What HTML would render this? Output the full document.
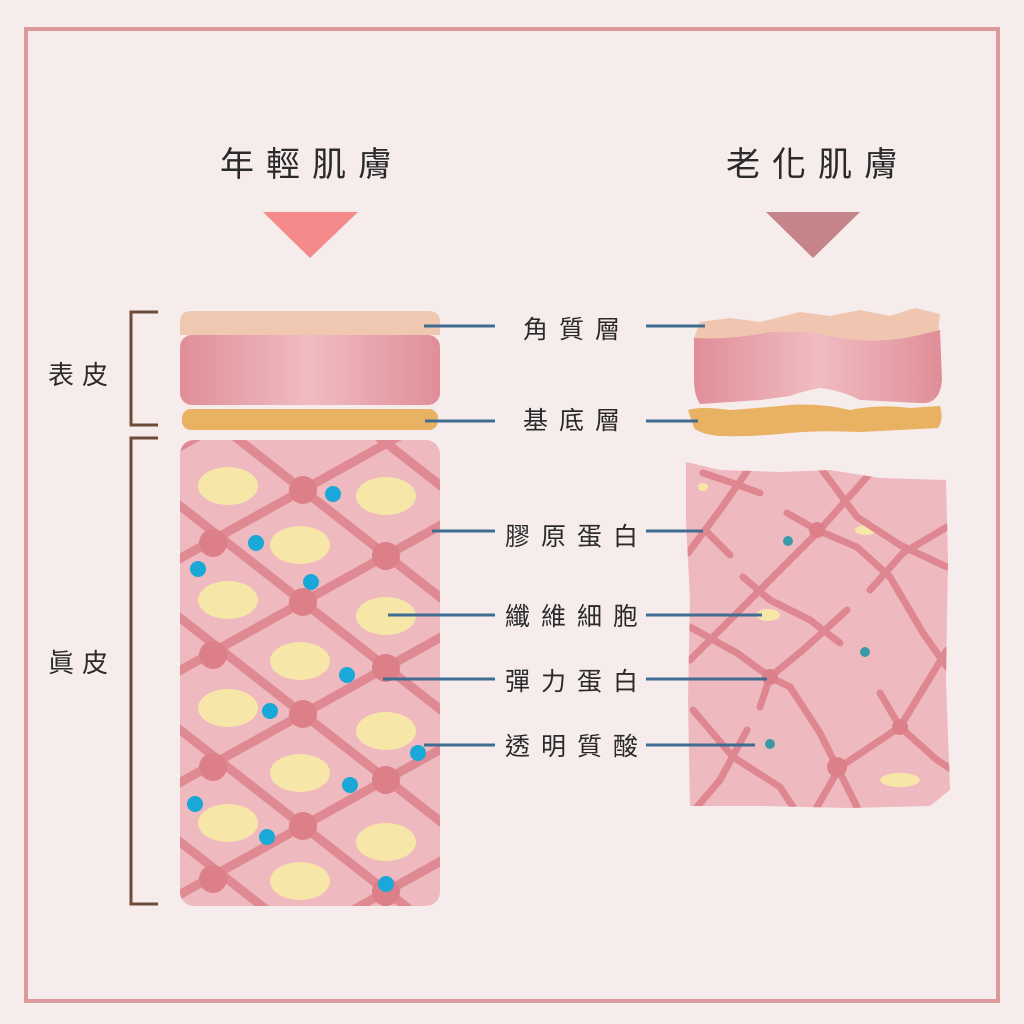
<!DOCTYPE html>
<html><head><meta charset="utf-8"><style>
html,body{margin:0;padding:0;background:#f7eded;width:1024px;height:1024px;overflow:hidden;position:relative;}
svg{display:block;position:absolute;left:0;top:0}
text{font-family:"Liberation Sans","Noto Sans CJK TC",sans-serif;fill:#2a2a2a}
</style></head><body>
<svg width="1024" height="1024" viewBox="0 0 1024 1024" xmlns="http://www.w3.org/2000/svg" overflow="hidden">
<defs>
<linearGradient id="epi" x1="0" x2="1" y1="0" y2="0">
<stop offset="0" stop-color="#e08e98"/><stop offset="0.5" stop-color="#f0bcc2"/><stop offset="1" stop-color="#e08e98"/>
</linearGradient>
<clipPath id="cl"><rect x="180" y="440" width="260" height="466" rx="14"/></clipPath>
<clipPath id="cr"><path d="M686 462 L720 470 L780 472 L830 470 L880 478 L946 480 L948 560 L946 680 L950 790 L930 806 L850 808 L760 806 L690 806 L688 700 L690 600 L686 520 Z"/></clipPath>
</defs>
<rect x="26" y="29" width="972" height="972" fill="#f6ecec" stroke="#dc9a9c" stroke-width="4"/>

<g font-size="34" text-anchor="middle" letter-spacing="12">
<text x="312" y="176">年輕肌膚</text>
<text x="818" y="176">老化肌膚</text>
</g>
<polygon points="263,212 358,212 310,258" fill="#f58a8a"/>
<polygon points="766,212 860,212 813,258" fill="#c4848a"/>

<g stroke="#6e4a34" stroke-width="3" fill="none">
<polyline points="158,312 131,312 131,425 158,425"/>
<polyline points="158,438 131,438 131,904 158,904"/>
</g>
<text x="82" y="384" font-size="26" text-anchor="middle" letter-spacing="8">表皮</text>
<text x="82" y="672" font-size="26" text-anchor="middle" letter-spacing="8">眞皮</text>

<rect x="180" y="335" width="260" height="70" rx="12" fill="url(#epi)"/>
<path d="M180 335 V322 Q180 311 192 311 H428 Q440 311 440 322 V335 Z" fill="#f0c7b0"/>
<rect x="182" y="409" width="256" height="21" rx="9" fill="#e8b262"/>

<rect x="180" y="440" width="260" height="466" rx="14" fill="#efb9c0"/>
<g clip-path="url(#cl)">
<g fill="#f6e6a8">
<ellipse cx="228" cy="486" rx="30" ry="19"/><ellipse cx="386" cy="496" rx="30" ry="19"/>
<ellipse cx="300" cy="545" rx="30" ry="19"/><ellipse cx="228" cy="600" rx="30" ry="19"/>
<ellipse cx="386" cy="616" rx="30" ry="19"/><ellipse cx="300" cy="661" rx="30" ry="19"/>
<ellipse cx="228" cy="708" rx="30" ry="19"/><ellipse cx="386" cy="731" rx="30" ry="19"/>
<ellipse cx="300" cy="773" rx="30" ry="19"/><ellipse cx="228" cy="823" rx="30" ry="19"/>
<ellipse cx="386" cy="842" rx="30" ry="19"/><ellipse cx="300" cy="881" rx="30" ry="19"/>
</g>
<g stroke="#df8a93" stroke-width="9">
<line x1="170" y1="274" x2="450" y2="493"/><line x1="170" y1="386" x2="450" y2="605"/>
<line x1="170" y1="498" x2="450" y2="717"/><line x1="170" y1="610" x2="450" y2="829"/>
<line x1="170" y1="722" x2="450" y2="941"/><line x1="170" y1="834" x2="300" y2="936"/>
<line x1="170" y1="452" x2="450" y2="296"/><line x1="170" y1="564" x2="450" y2="408"/>
<line x1="170" y1="676" x2="450" y2="520"/><line x1="170" y1="788" x2="450" y2="632"/>
<line x1="170" y1="900" x2="450" y2="744"/><line x1="170" y1="1012" x2="450" y2="856"/>
</g>
<g fill="#dc7f89">
<circle cx="303" cy="490" r="14"/><circle cx="303" cy="602" r="14"/><circle cx="303" cy="714" r="14"/><circle cx="303" cy="826" r="14"/>
<circle cx="213" cy="543" r="14"/><circle cx="213" cy="655" r="14"/><circle cx="213" cy="767" r="14"/><circle cx="213" cy="879" r="14"/>
<circle cx="386" cy="556" r="14"/><circle cx="386" cy="668" r="14"/><circle cx="386" cy="780" r="14"/><circle cx="386" cy="892" r="14"/>
</g>
<g fill="#1aa8d8">
<circle cx="333" cy="494" r="8"/><circle cx="256" cy="543" r="8"/><circle cx="198" cy="569" r="8"/>
<circle cx="311" cy="582" r="8"/><circle cx="347" cy="675" r="8"/><circle cx="270" cy="711" r="8"/>
<circle cx="418" cy="753" r="8"/><circle cx="350" cy="785" r="8"/><circle cx="195" cy="804" r="8"/>
<circle cx="267" cy="837" r="8"/><circle cx="386" cy="884" r="8"/>
</g>
</g>

<path d="M694 338 L700 322 L730 318 L760 322 L800 312 L830 316 L860 310 L890 316 L915 308 L940 314 L938 336 L925 345 L694 345 Z" fill="#f0c6b0"/>
<path d="M694 338 Q730 340 770 332 Q810 330 840 338 Q880 344 915 336 L940 330 L942 380 Q940 405 920 403 L860 400 Q840 390 820 388 Q800 392 790 396 L760 400 L700 404 Q694 395 694 380 Z" fill="url(#epi)"/>
<path d="M688 410 Q700 406 730 410 Q760 408 790 405 Q820 403 850 410 Q880 404 910 408 L940 406 Q944 420 938 428 Q900 430 860 432 Q820 430 790 433 Q750 437 720 436 Q700 434 694 428 Z" fill="#e8b262"/>

<path d="M686 462 L720 470 L780 472 L830 470 L880 478 L946 480 L948 560 L946 680 L950 790 L930 806 L850 808 L760 806 L690 806 L688 700 L690 600 L686 520 Z" fill="#efb9c0"/>
<g clip-path="url(#cr)">
<g fill="#f6e6a8">
<ellipse cx="866" cy="530" rx="11" ry="5"/><ellipse cx="768" cy="615" rx="12" ry="6"/>
<ellipse cx="900" cy="780" rx="20" ry="7"/><ellipse cx="703" cy="487" rx="5" ry="4"/>
</g>
<g stroke="#de8790" stroke-width="7" fill="none" stroke-linecap="round">
<polyline points="688,553 720,510 750,467"/>
<polyline points="703,473 730,482 760,493"/>
<polyline points="820,467 857,517 900,545 947,567"/>
<polyline points="873,470 817,533 757,593 690,660"/>
<polyline points="787,513 817,530 857,547 890,577 923,633 947,667"/>
<polyline points="947,527 903,553 870,590"/>
<polyline points="743,577 770,600 810,620 840,643"/>
<polyline points="847,610 803,650 770,677 760,707"/>
<polyline points="690,627 737,653 770,677 790,687 820,733 837,767 857,807"/>
<polyline points="880,693 900,727 937,760 957,773"/>
<polyline points="947,650 900,727 840,767 817,807"/>
<polyline points="693,710 733,757 780,787 793,807"/>
<polyline points="747,730 720,780 697,807"/>
<polyline points="705,530 720,545 730,555"/>
</g>
<g fill="#dc7f89">
<circle cx="817" cy="530" r="8"/><circle cx="770" cy="677" r="8"/><circle cx="900" cy="727" r="8"/><circle cx="837" cy="767" r="10"/>
</g>
<g fill="#3a9aa8">
<circle cx="788" cy="541" r="5"/><circle cx="865" cy="652" r="5"/><circle cx="770" cy="744" r="5"/>
</g>
</g>

<g font-size="25" text-anchor="middle" letter-spacing="11">
<text x="577" y="338">角質層</text>
<text x="577" y="429">基底層</text>
<text x="577" y="545">膠原蛋白</text>
<text x="577" y="625">纖維細胞</text>
<text x="577" y="690">彈力蛋白</text>
<text x="577" y="755">透明質酸</text>
</g>
<g stroke="#3f6c90" stroke-width="3">
<line x1="424" y1="326" x2="495" y2="326"/><line x1="646" y1="326" x2="705" y2="326"/>
<line x1="425" y1="421" x2="495" y2="421"/><line x1="646" y1="421" x2="698" y2="421"/>
<line x1="432" y1="531" x2="495" y2="531"/><line x1="646" y1="531" x2="703" y2="531"/>
<line x1="388" y1="615" x2="495" y2="615"/><line x1="646" y1="615" x2="762" y2="615"/>
<line x1="383" y1="679" x2="495" y2="679"/><line x1="646" y1="679" x2="767" y2="679"/>
<line x1="424" y1="745" x2="495" y2="745"/><line x1="646" y1="745" x2="755" y2="745"/>
</g>
</svg>
</body></html>
